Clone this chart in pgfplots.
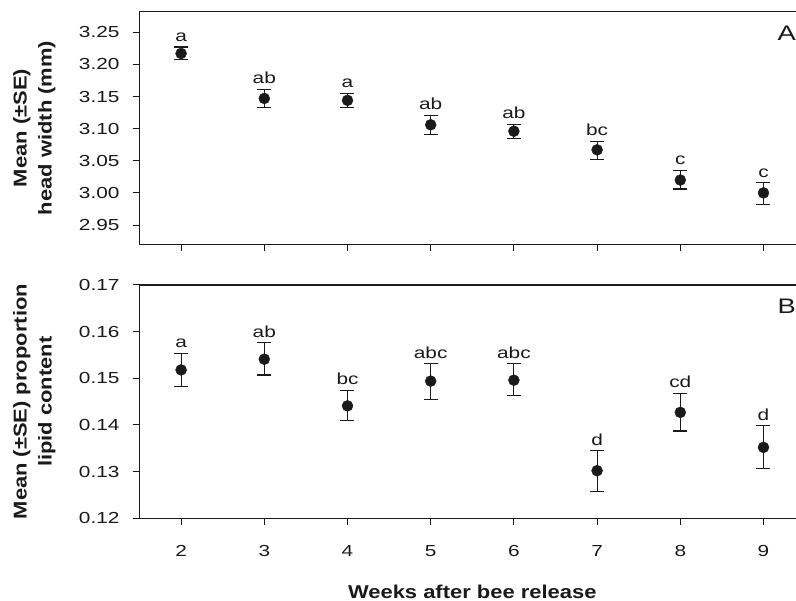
\documentclass[border=0pt]{standalone}
\usepackage{pgfplots}
\pgfplotsset{compat=1.18}
\usepackage{pgfplotstable}
\usepackage{fontspec}
\setmainfont{Liberation Sans}
\newfontfamily\tickfont{Liberation Sans}[FakeStretch=1.3]
\newfontfamily\labfont{Liberation Sans}[FakeStretch=1.18]
\definecolor{ink}{HTML}{1A1A1A}

\pgfplotstableread{
x y ep em lab
2 3.217 0.010 0.009 a
3 3.147 0.014 0.014 ab
4 3.144 0.011 0.011 a
5 3.106 0.015 0.015 ab
6 3.096 0.011 0.012 ab
7 3.067 0.013 0.015 bc
8 3.020 0.015 0.014 c
9 3.000 0.016 0.018 c
}\headwidth

\pgfplotstableread{
x y ep em lab
2 0.1518 0.0036 0.0036 a
3 0.1541 0.0035 0.0034 ab
4 0.1441 0.0033 0.0032 bc
5 0.1494 0.0037 0.0039 abc
6 0.1496 0.0035 0.0032 abc
7 0.1302 0.0043 0.0044 d
8 0.1427 0.0041 0.0040 cd
9 0.1352 0.0046 0.0046 d
}\lipid

\pgfplotsset{
  panel/.style={
    scale only axis,
    width=665.6pt,
    xmin=1.5, xmax=9.5,
    xtick={2,3,4,5,6,7,8,9},
    axis x line*=bottom,
    axis y line*=left,
    axis line style={-, line width=1.1pt, ink},
    tick align=outside,
    major tick length=6.5pt,
    tick style={line width=1pt, ink},
    every tick label/.append style={font=\tickfont\fontsize{16}{16}\selectfont, text=ink},
    yticklabel style={xshift=-10pt, /pgf/number format/.cd, fixed, fixed zerofill, precision=2, assume math mode=true},
    xticklabel style={yshift=-17pt, /pgf/number format/assume math mode=true},
    every axis y label/.style={at={(rel axis cs:0,0.5)}, rotate=90, anchor=center, yshift=105.3pt,
      font=\labfont\bfseries\fontsize{18.6}{25}\selectfont, align=center, text=ink},
    clip=false,
  },
  pts/.style={
    only marks, mark=*, mark size=5.5pt, mark options={fill=ink, draw=ink},
    error bars/.cd, y dir=both, y explicit,
    error bar style={line width=1.1pt, ink},
    error mark options={rotate=90, mark size=7pt, line width=1.1pt, ink},
  },
  letters/.style={
    draw=none, mark=none,
    nodes near coords, point meta=explicit symbolic,
    nodes near coords style={anchor=base, inner sep=0pt, yshift=5.5pt,
      font=\tickfont\fontsize{16}{16}\selectfont, text=ink},
  },
}

\begin{document}
\begin{tikzpicture}
\useasboundingbox (0,0) rectangle (796pt,601pt);
\begin{axis}[panel,
  at={(139.5pt,356.7pt)}, anchor=south west,
  height=232.6pt,
  ymin=2.92, ymax=3.282,
  ytick={2.95,3.00,3.05,3.10,3.15,3.20,3.25},
  xticklabels={},
  ylabel={Mean (±SE)\\head width (mm)},
]
\addplot[pts] table[x=x, y=y, y error plus=ep, y error minus=em] {\headwidth};
\addplot[letters] table[x=x, y expr=\thisrow{y}+\thisrow{ep}, meta=lab] {\headwidth};
\draw[line width=1.1pt, ink] (rel axis cs:0,1) -- (rel axis cs:1,1);
\node[font=\tickfont\fontsize{21}{21}\selectfont, text=ink] at (rel axis cs:0.9724,0.908) {A};
\end{axis}

\begin{axis}[panel,
  at={(139.5pt,82.7pt)}, anchor=south west,
  height=233.3pt,
  ymin=0.12, ymax=0.17,
  ytick={0.12,0.13,0.14,0.15,0.16,0.17},
  ylabel={Mean (±SE) proportion\\lipid content},
  xlabel={Weeks after bee release},
  xlabel style={font=\labfont\bfseries\fontsize{18.6}{22}\selectfont, text=ink,
    at={(rel axis cs:0.5,0)}, anchor=center, yshift=-73.4pt},
]
\addplot[pts] table[x=x, y=y, y error plus=ep, y error minus=em] {\lipid};
\addplot[letters] table[x=x, y expr=\thisrow{y}+\thisrow{ep}, meta=lab] {\lipid};
\draw[line width=1.1pt, ink] (rel axis cs:0,1) -- (rel axis cs:1,1);
\node[font=\tickfont\fontsize{21}{21}\selectfont, text=ink] at (rel axis cs:0.9724,0.907) {B};
\end{axis}
\end{tikzpicture}
\end{document}
